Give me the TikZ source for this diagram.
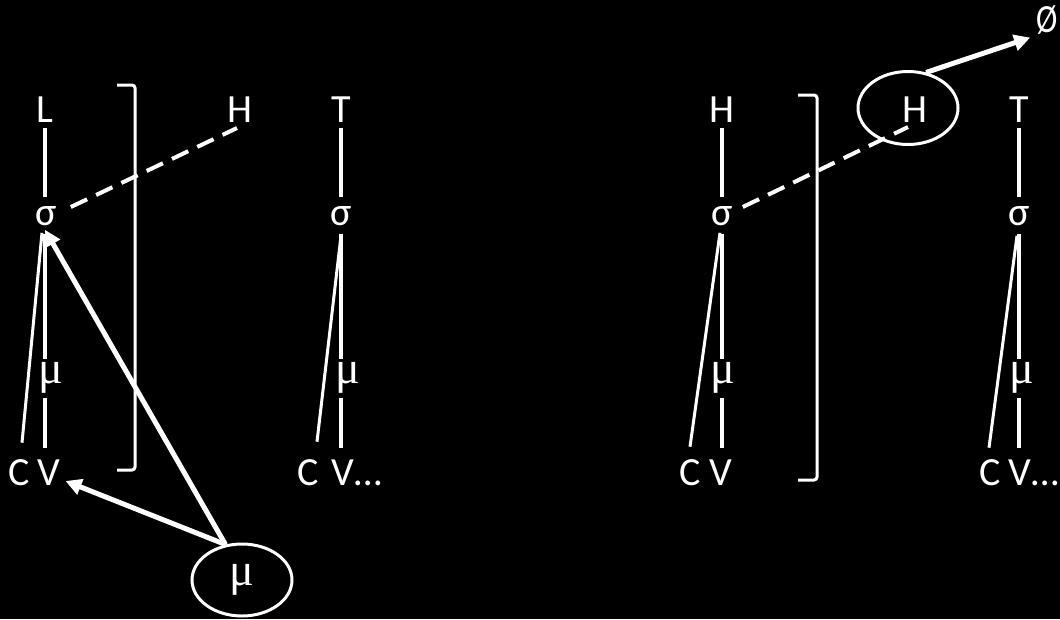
\documentclass[tikz,border=0pt]{standalone}
\usepackage{fontspec}
\setmainfont{Carlito}
\newfontfamily\greekserif{Liberation Serif}
\usetikzlibrary{arrows.meta,shapes.geometric}

\begin{document}
\begin{tikzpicture}[x=1pt,y=1pt,
  lbl/.style={text=white,inner sep=0pt,font=\fontsize{40}{40}\selectfont},
  mulbl/.style={text=white,inner sep=0pt,font=\greekserif\fontsize{46}{46}\selectfont},
  stem/.style={draw=white,line width=4pt},
  slant/.style={draw=white,line width=3pt},
  dashlink/.style={draw=white,line width=4pt,dash pattern=on 18pt off 10pt},
  bracket/.style={draw=white,line width=3pt,rounded corners=3pt},
  bigarrow/.style={draw=white,line width=5pt,-{Triangle[length=16pt,width=16pt]}},
  ring/.style={ellipse,draw=white,line width=3pt,inner sep=0pt,minimum width=100pt}
]
\useasboundingbox (0,0) rectangle (1060,-619);
\fill[black] (0,0) rectangle (1060,-619);

% ---- left half: L ... T ----
\node[lbl] (L)  at (45,-110) {L};
\node[lbl] (s1) at (46,-216) {σ};
\node[mulbl] (m1) at (51,-378) {μ};
\node[lbl] (c1) at (19,-473) {C};
\node[lbl] (v1) at (49,-473) {V};
\node[lbl] (h1) at (240,-110) {H};

\draw[stem,shorten <=5pt,shorten >=9pt] (L.south) -- (L.south |- s1.north);
\draw[stem,shorten <=8pt,shorten >=3pt] (L.south |- s1.south) -- (L.south |- m1.north);
\draw[stem,shorten <=4pt,shorten >=12pt] (L.south |- m1.south) -- (L.south |- v1.north);
\draw[slant] ([shift={(-4pt,-7pt)}]s1.south) -- ([shift={(3pt,17pt)}]c1.north);
\draw[dashlink] ([shift={(14pt,9pt)}]s1.east) -- ([shift={(-3pt,-5pt)}]h1.south);

\coordinate (b1a) at (117,-85);
\coordinate (b1b) at (117,-470);
\draw[bracket] (b1a) -- (b1a -| 135,0) -- (b1b -| 135,0) -- (b1b);

\node[lbl] (t1) at (341,-110) {T};
\node[lbl] (s2) at (341,-216) {σ};
\node[mulbl] (m2) at (348,-378) {μ};
\node[lbl] (c2) at (308,-473) {C};
\node[lbl] (v2) at (357,-473) {V…};

\draw[stem,shorten <=5pt,shorten >=9pt] (t1.south) -- (t1.south |- s2.north);
\draw[stem,shorten <=8pt,shorten >=3pt] (t1.south |- s2.south) -- (t1.south |- m2.north);
\draw[stem,shorten <=4pt,shorten >=12pt] (t1.south |- m2.south) -- (t1.south |- v2.north);
\draw[slant] ([shift={(0pt,-10pt)}]s2.south) -- ([shift={(9pt,18pt)}]c2.north);

\node[ring,minimum height=72pt,font=\greekserif\fontsize{46}{46}\selectfont,text=white] (mE) at (242,-580) {μ};
\draw[bigarrow] (mE.115) -- ([shift={(-1pt,-4pt)}]s1.south);
\draw[bigarrow] (mE.115) -- ([shift={(5pt,-8pt)}]v1.east);

% ---- right half: H ... T ----
\node[lbl] (h3) at (722,-110) {H};
\node[lbl] (s3) at (722,-216) {σ};
\node[mulbl] (m3) at (723,-378) {μ};
\node[lbl] (c3) at (690,-473) {C};
\node[lbl] (v3) at (721,-473) {V};

\draw[stem,shorten <=5pt,shorten >=9pt] (h3.south) -- (h3.south |- s3.north);
\draw[stem,shorten <=8pt,shorten >=3pt] (h3.south |- s3.south) -- (h3.south |- m3.north);
\draw[stem,shorten <=4pt,shorten >=12pt] (h3.south |- m3.south) -- (h3.south |- v3.north);
\draw[slant] ([shift={(-2pt,-7pt)}]s3.south) -- ([shift={(0pt,13pt)}]c3.north);

\coordinate (b2a) at (798,-95);
\coordinate (b2b) at (798,-480);
\draw[bracket] (b2a) -- (b2a -| 817,0) -- (b2b -| 817,0) -- (b2b);

\node[ring,minimum height=73pt] (hE) at (908,-108) {};
\node[lbl] (h4) at (915,-110) {H};
\node[lbl] (phi) at (1047,-20) {\scalebox{0.8}[1]{Ø}};
\draw[dashlink] ([shift={(10pt,9pt)}]s3.east) -- ([shift={(-7pt,-4pt)}]h4.south);
\draw[bigarrow] (hE.63) -- ([shift={(-6pt,-3pt)}]phi.south west);

\node[lbl] (t4) at (1019,-110) {T};
\node[lbl] (s4) at (1019,-216) {σ};
\node[mulbl] (m4) at (1022,-378) {μ};
\node[lbl] (c4) at (990,-473) {C};
\node[lbl] (v4) at (1034,-473) {V…};

\draw[stem,shorten <=5pt,shorten >=9pt] (t4.south) -- (t4.south |- s4.north);
\draw[stem,shorten <=8pt,shorten >=3pt] (t4.south |- s4.south) -- (t4.south |- m4.north);
\draw[stem,shorten <=4pt,shorten >=12pt] (t4.south |- m4.south) -- (t4.south |- v4.north);
\draw[slant] ([shift={(-2pt,-10pt)}]s4.south) -- ([shift={(-1pt,12pt)}]c4.north);
\end{tikzpicture}
\end{document}
